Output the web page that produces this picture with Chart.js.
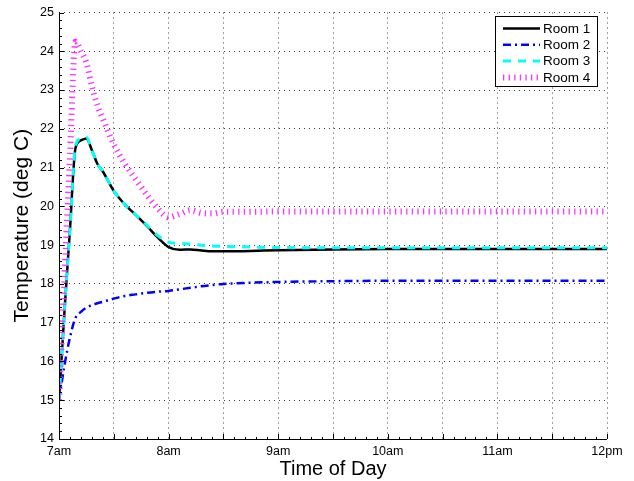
<!DOCTYPE html>
<html>
<head>
<meta charset="utf-8">
<script src="https://cdn.jsdelivr.net/npm/chart.js@4/dist/chart.umd.min.js"></script>
<style>
  body { margin: 0; background: #fff; }
  #wrap { width: 634px; height: 481px; }
</style>
</head>
<body>
<div id="wrap"><canvas id="tempChart" width="634" height="481"></canvas></div>
<script>
// data (time in hours of day)
const times = [7.00, 7.05, 7.10, 7.15, 7.20, 7.25, 7.30, 7.35, 7.40, 7.50, 7.60, 7.70, 7.80, 7.90,
               8.00, 8.10, 8.20, 8.30, 8.40, 8.50, 8.75, 9.00, 9.50, 10.0, 10.5, 11.0, 11.5, 12.0];

const room1 = [15.0, 17.3, 19.4, 21.5, 21.7, 21.75, 21.45, 21.1, 20.9, 20.4, 20.05, 19.78, 19.5, 19.2,
               18.95, 18.88, 18.89, 18.86, 18.84, 18.84, 18.85, 18.87, 18.89, 18.9, 18.9, 18.9, 18.9, 18.9];
const room2 = [15.0, 15.9, 16.62, 17.12, 17.28, 17.39, 17.45, 17.5, 17.54, 17.62, 17.69, 17.73, 17.77, 17.8,
               17.82, 17.86, 17.9, 17.94, 17.97, 18.0, 18.03, 18.05, 18.07, 18.08, 18.08, 18.08, 18.08, 18.08];
const room3 = [15.0, 17.3, 19.4, 21.55, 21.75, 21.78, 21.45, 21.1, 20.9, 20.4, 20.05, 19.78, 19.52, 19.25,
               19.08, 19.04, 19.03, 19.0, 18.98, 18.97, 18.95, 18.94, 18.93, 18.93, 18.93, 18.93, 18.93, 18.93];
const room4 = [15.0, 18.2, 21.3, 24.25, 24.0, 23.7, 23.1, 22.6, 22.26, 21.6, 21.1, 20.7, 20.3, 19.95,
               19.72, 19.8, 19.9, 19.83, 19.82, 19.86, 19.86, 19.87, 19.87, 19.87, 19.87, 19.87, 19.87, 19.87];

const seriesNames = ['Room 1', 'Room 2', 'Room 3', 'Room 4'];
const hourValues = [7, 8, 9, 10, 11, 12];
const hourLabels = ['7am', '8am', '9am', '10am', '11am', '12pm'];

const FONT = 'Liberation Sans, Arial, Helvetica, sans-serif';

function toPoints(vals) {
    return times.map((t, i) => ({ x: t, y: vals[i] }));
}

// MATLAB style axes: solid left/bottom lines with inward ticks, plus a boxed legend
const axesPlugin = {
    id: 'matlabAxes',
    afterDatasetsDraw(chart) {
        const { ctx, chartArea: a, scales: { x, y } } = chart;
        ctx.save();
        ctx.strokeStyle = '#000';
        ctx.lineWidth = 1;
        ctx.beginPath();
        ctx.moveTo(a.left + 0.5, a.top);
        ctx.lineTo(a.left + 0.5, a.bottom + 0.5);
        ctx.lineTo(a.right, a.bottom + 0.5);
        // y ticks, major every 1, minor every 0.2
        for (let v = 14; v <= 25.001; v += 0.2) {
            const py = Math.round(y.getPixelForValue(v)) + 0.5;
            const major = Math.abs(v - Math.round(v)) < 0.01;
            ctx.moveTo(a.left, py);
            ctx.lineTo(a.left + (major ? 5 : 3), py);
        }
        // x ticks, major every 0.5h, minor every 0.1h
        for (let t = 7; t <= 12.001; t += 0.1) {
            const px = Math.round(x.getPixelForValue(t)) + 0.5;
            const major = Math.abs(t * 2 - Math.round(t * 2)) < 0.01;
            ctx.moveTo(px, a.bottom);
            ctx.lineTo(px, a.bottom - (major ? 5 : 2));
        }
        ctx.stroke();
        ctx.restore();
    },
    afterDraw(chart) {
        const { ctx } = chart;
        const bx = 495.5, by = 16.5, bw = 102, bh = 70;
        ctx.save();
        ctx.fillStyle = '#fff';
        ctx.fillRect(bx, by, bw, bh);
        ctx.strokeStyle = '#000';
        ctx.lineWidth = 1;
        ctx.strokeRect(bx, by, bw, bh);
        ctx.font = '13.5px ' + FONT;
        ctx.textBaseline = 'middle';
        chart.data.datasets.forEach((ds, i) => {
            const ry = by + 12 + i * 16.3;
            ctx.beginPath();
            ctx.strokeStyle = ds.borderColor;
            ctx.lineWidth = ds.borderWidth;
            ctx.setLineDash(ds.borderDash || []);
            ctx.moveTo(503, ry);
            ctx.lineTo(540, ry);
            ctx.stroke();
            ctx.setLineDash([]);
            ctx.fillStyle = '#000';
            ctx.fillText(ds.label, 543, ry + 0.5);
        });
        ctx.restore();
    }
};

const ctx = document.getElementById('tempChart').getContext('2d');
new Chart(ctx, {
    type: 'line',
    data: {
        datasets: [
            { label: seriesNames[0], data: toPoints(room1), borderColor: '#000000', borderWidth: 2.5, order: 4 },
            { label: seriesNames[1], data: toPoints(room2), borderColor: '#0000ff', borderWidth: 2.5, borderDash: [8, 4, 2, 4], order: 3 },
            { label: seriesNames[2], data: toPoints(room3), borderColor: '#00ffff', borderWidth: 3, borderDash: [8, 7], order: 2 },
            { label: seriesNames[3], data: toPoints(room4), borderColor: '#ff33ff', borderWidth: 6, borderDash: [1.3, 4.3], order: 1 }
        ]
    },
    options: {
        responsive: false,
        animation: false,
        layout: { padding: { top: 10, right: 27, left: 0, bottom: 0 } },
        elements: {
            point: { radius: 0 },
            line: { cubicInterpolationMode: 'monotone', borderCapStyle: 'butt', fill: false }
        },
        plugins: {
            legend: { display: false },
            tooltip: { enabled: false }
        },
        scales: {
            x: {
                type: 'linear',
                min: 7,
                max: 12,
                afterFit: (s) => { s.height = 42; },
                ticks: {
                    stepSize: 0.5,
                    autoSkip: false,
                    maxRotation: 0,
                    padding: 5,
                    color: '#000',
                    font: { family: FONT, size: 12.5 },
                    callback: (v) => {
                        const i = hourValues.indexOf(v);
                        return i >= 0 ? hourLabels[i] : '';
                    }
                },
                grid: { color: 'rgba(0,0,0,0.75)', lineWidth: 1, drawTicks: false },
                border: { display: false, dash: [1, 4] },
                title: {
                    display: true,
                    text: 'Time of Day',
                    color: '#000',
                    font: { family: FONT, size: 20 },
                    padding: { top: 0, bottom: 0 }
                }
            },
            y: {
                min: 14,
                max: 25,
                afterFit: (s) => { s.width = 59; },
                ticks: {
                    stepSize: 1,
                    padding: 5,
                    color: '#000',
                    font: { family: FONT, size: 12.5 }
                },
                grid: { color: 'rgba(0,0,0,0.75)', lineWidth: 1, drawTicks: false },
                border: { display: false, dash: [1, 4] },
                title: {
                    display: true,
                    text: 'Temperature (deg C)',
                    color: '#000',
                    font: { family: FONT, size: 21 },
                    padding: { top: 10, bottom: 0 }
                }
            }
        }
    },
    plugins: [axesPlugin]
});
</script>
</body>
</html>
